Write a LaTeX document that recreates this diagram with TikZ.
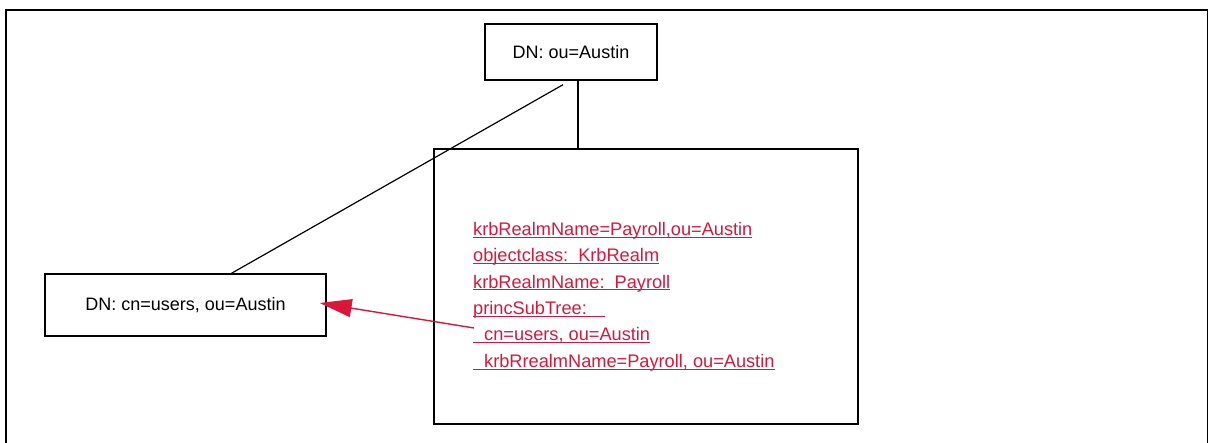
\documentclass[tikz,border=0pt]{standalone}
\usepackage{fontspec}
\setmainfont{Liberation Sans}
\usetikzlibrary{arrows.meta}
\definecolor{realmred}{RGB}{218,22,58}
\newcommand{\redul}[1]{\setbox0\hbox{#1}\rlap{\rule[-2.2pt]{\wd0}{0.9pt}}\box0}

\begin{document}
\begin{tikzpicture}[x=1pt, y=-1pt,
		dnbox/.style={rectangle, draw, line width=1.4pt, inner sep=0pt, font=\fontsize{18}{22}\selectfont},
		link/.style={line width=1.2pt}]
			\useasboundingbox (0,0) rectangle (1209,443);
			\draw[line width=1.6pt] (6,443) -- (6,10) -- (1207.5,10) -- (1207.5,443);
			\draw (571,52) node [dnbox, minimum width=172pt, minimum height=56pt] (austin) {DN: ou=Austin};
			\draw (185.5,305) node [dnbox, minimum width=281pt, minimum height=62pt] (users) {DN: cn=users, ou=Austin};
			\draw (646,286.5) node [dnbox, minimum width=424pt, minimum height=275pt] (realm) {};
			\draw (473,222) node [anchor=north west, inner sep=0pt, align=left, text=realmred,
				font=\fontsize{18.2}{26.4}\selectfont] (entry) {%
				\redul{krbRealmName=Payroll,ou=Austin}\\
				\redul{objectclass:\hspace{10pt}KrbRealm}\\
				\redul{krbRealmName:\hspace{10pt}Payroll}\\
				\redul{princSubTree:\hspace{18pt}}\\
				\redul{\hspace{11pt}cn=users, ou=Austin}\\
				\redul{\hspace{11pt}krbRrealmName=Payroll, ou=Austin}};
			\coordinate (stem) at ([xshift=7pt]austin.south);
			\coordinate (subtree) at (474,328);
			\path[link] (stem) edge (stem |- realm.north)
			([xshift=-8pt,yshift=-4pt]austin.south) edge ([xshift=46pt]users.north);
			\draw[line width=1.4pt, color=realmred, -{Triangle[length=32pt,width=18pt]}] (subtree) -- ([xshift=-7pt,yshift=2pt]users.east);
		\end{tikzpicture}
\end{document}
